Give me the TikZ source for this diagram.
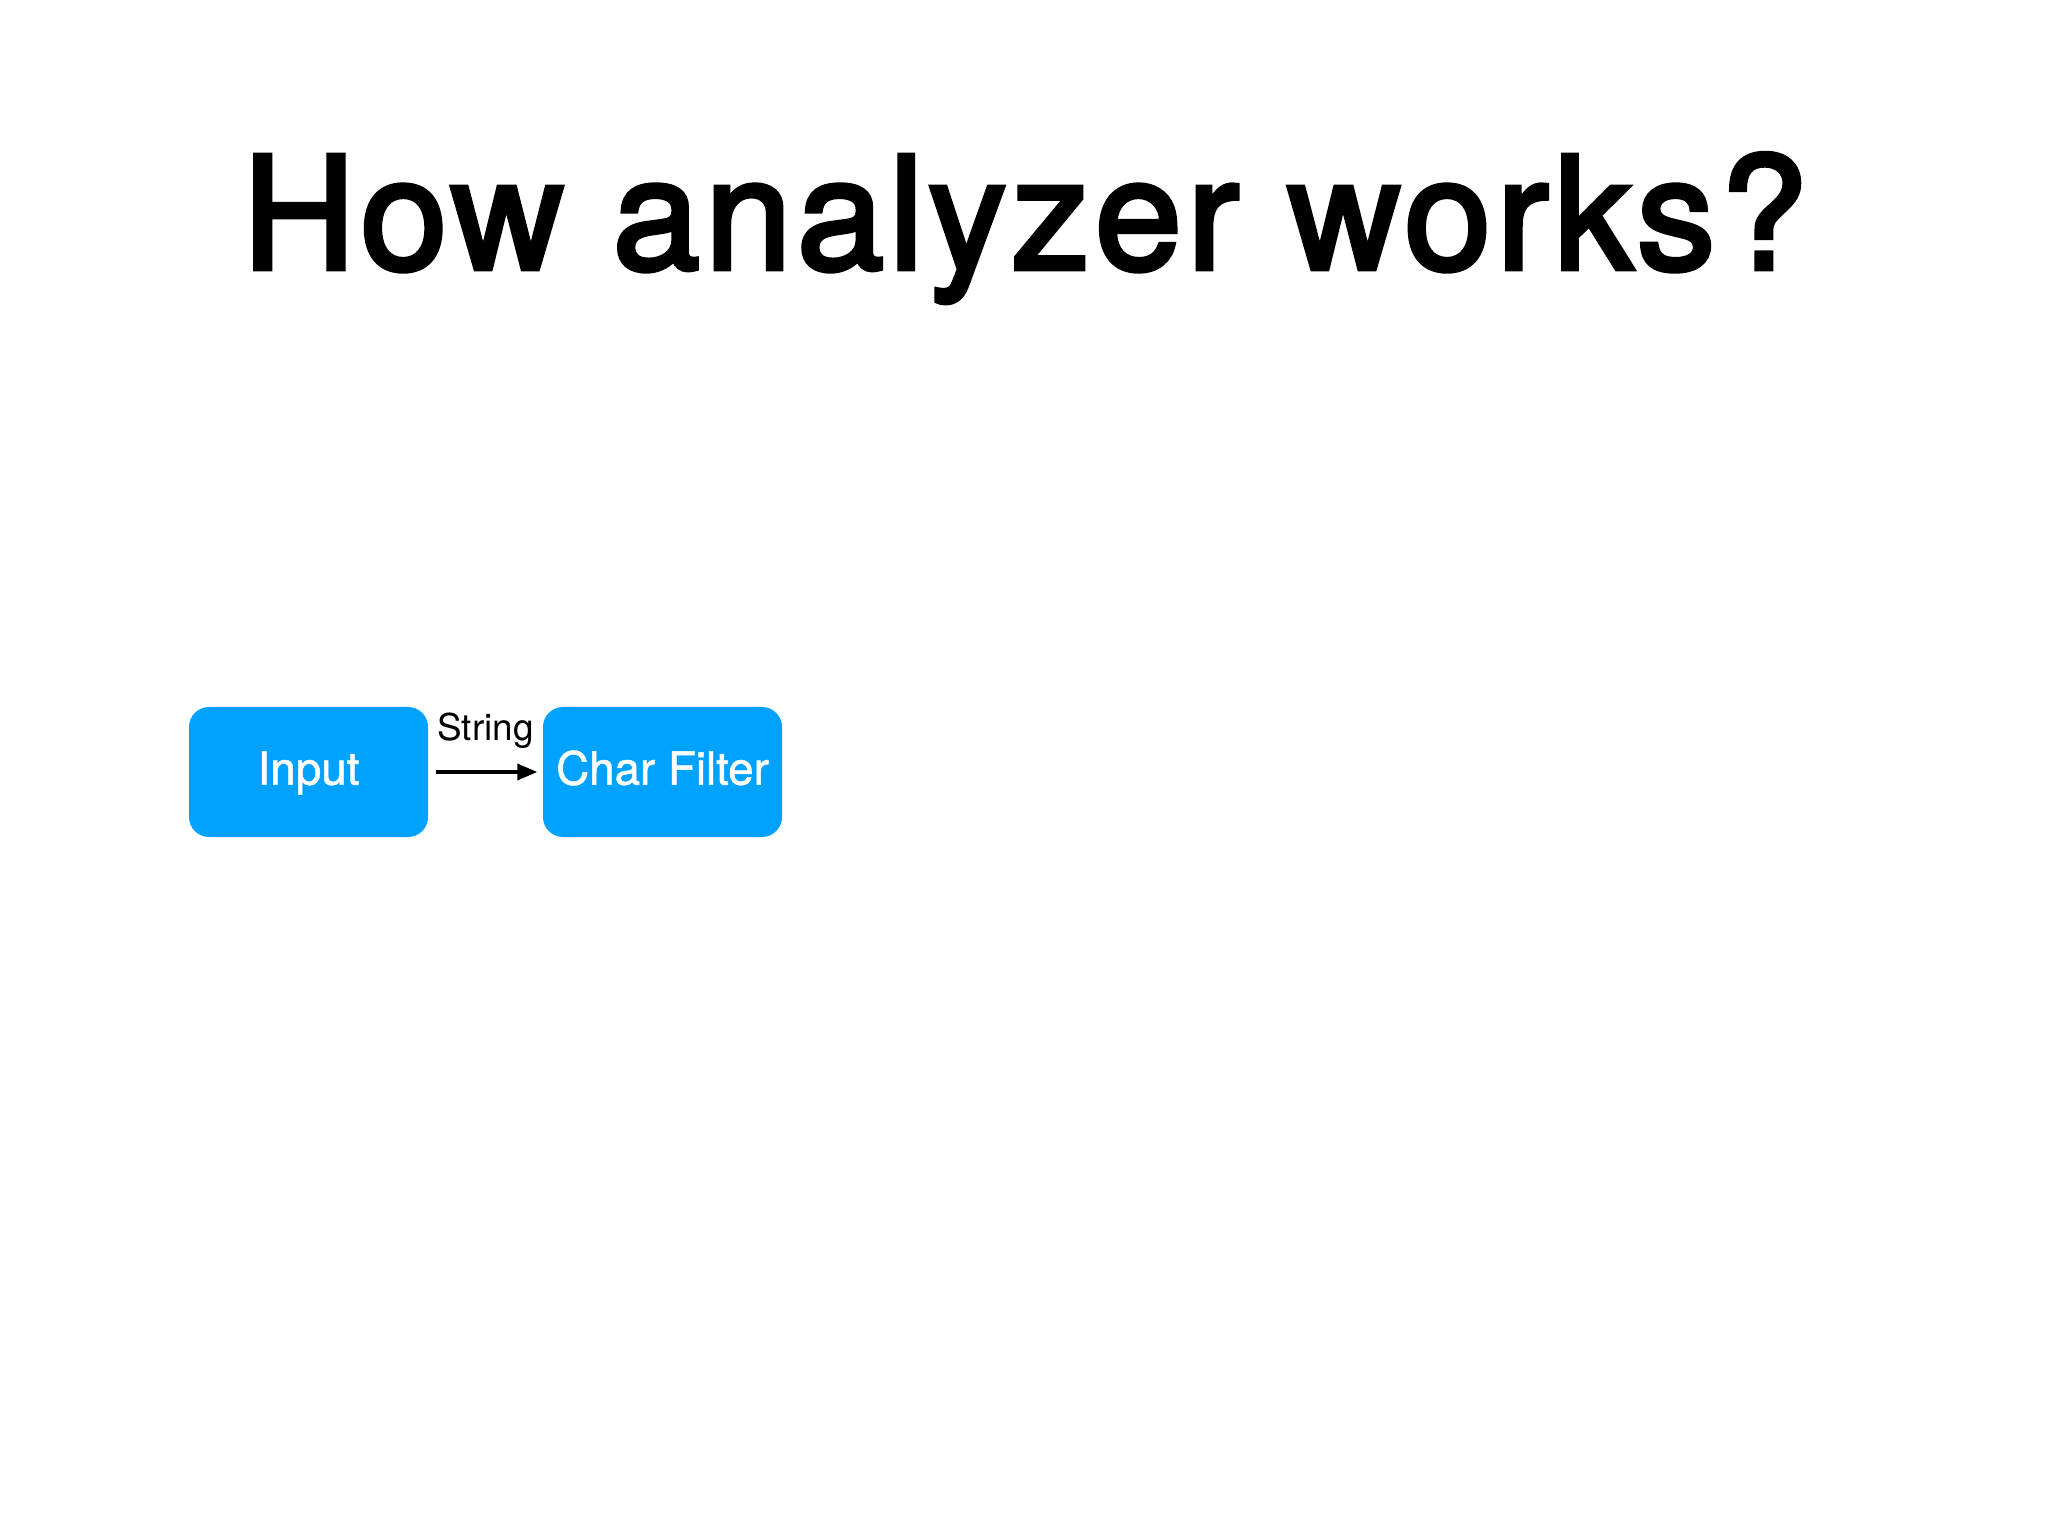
\documentclass[tikz,border=0pt]{standalone}
\usepackage{fontspec}
\setmainfont{TeX Gyre Heros}
\newfontfamily\mediumfont[FakeBold=1.2]{TeX Gyre Heros}
\newfontfamily\titlefont[FakeBold=3, LetterSpace=3.3]{TeX Gyre Heros}
\usetikzlibrary{shapes.misc, arrows.meta, calc}
\definecolor{boxblue}{RGB}{0,162,255}

\begin{document}
\begin{tikzpicture}[node distance=3.54cm]
    \tikzstyle{block} = [rectangle, rounded corners=0.2cm, minimum width=2.39cm, minimum height=1.3cm, fill=boxblue, text=white, font=\mediumfont\fontsize{13}{16}\selectfont, text height=0.72em, text depth=0pt, inner sep=0pt]
    \tikzstyle{arrow} = [line width=1pt, -{Triangle[length=0.2cm,width=0.16cm]}]
    \useasboundingbox (0,0) rectangle (20.48,-15.36);
    % Title
    \node (title) [anchor=base] at (10.25,-2.69) {\titlefont\fontsize{44.5}{54}\selectfont How analyzer works?};
    % Nodes
    \node (input) [block] at (3.085,-7.72) {Input};
    \node (charfilter) [block, right of=input] {Char Filter};
    % Arrows
    \draw [arrow, shorten <=0.07cm, shorten >=0.05cm] (input) -- node[above=0.22cm, inner sep=0pt, font=\fontsize{10.5}{12}\selectfont] {String} (charfilter);
\end{tikzpicture}
\end{document}
